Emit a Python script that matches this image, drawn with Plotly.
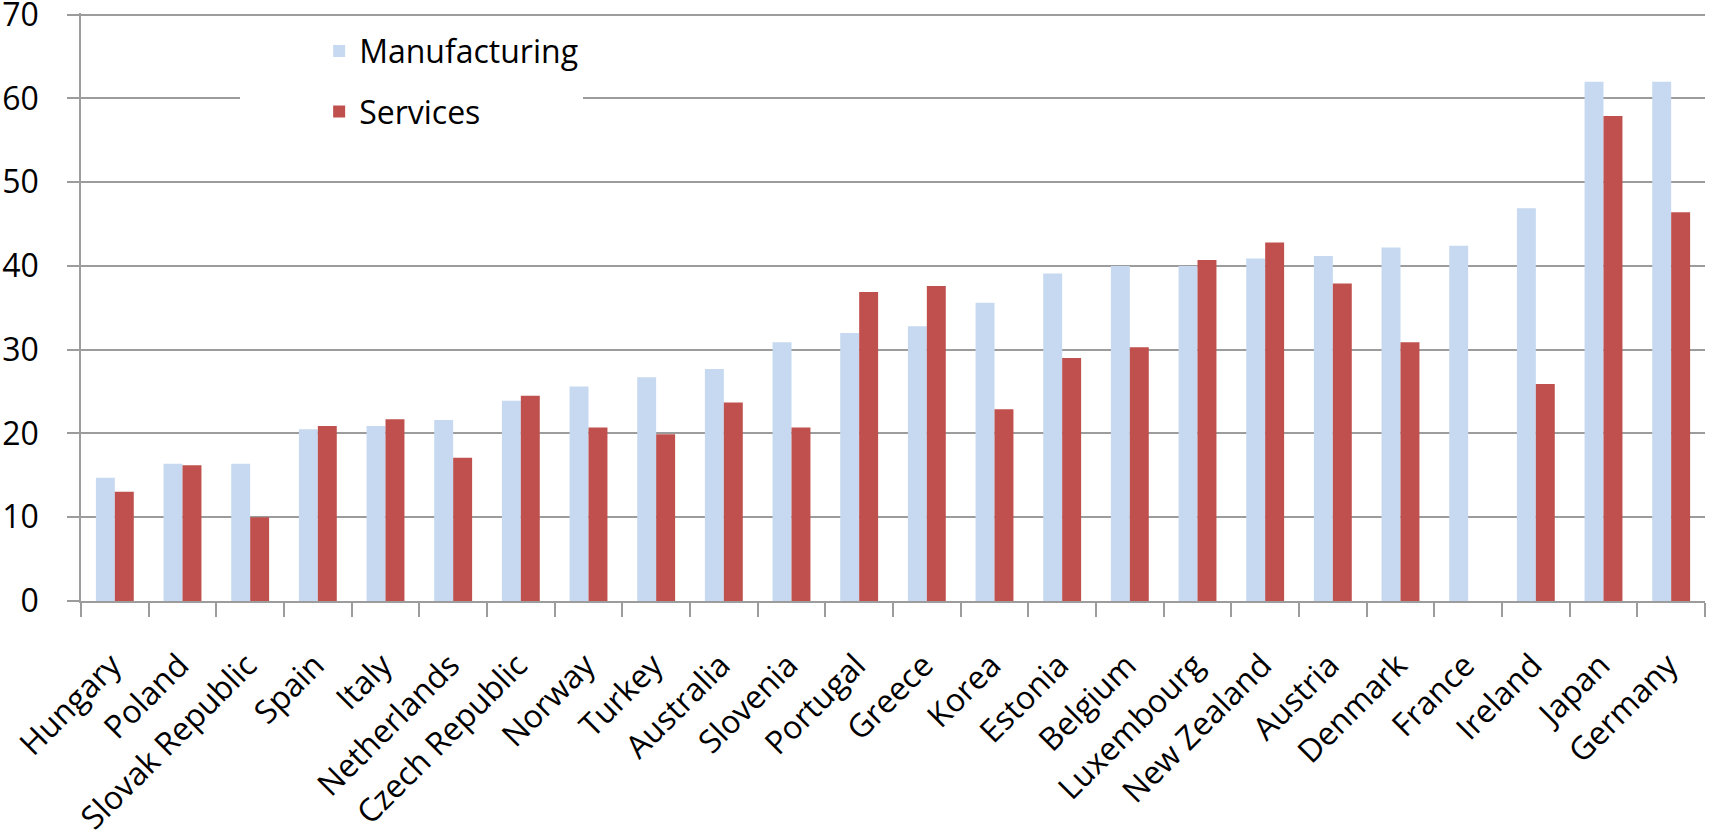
import plotly.graph_objects as go

countries = ["Hungary", "Poland", "Slovak Republic", "Spain", "Italy", "Netherlands",
             "Czech Republic", "Norway", "Turkey", "Australia", "Slovenia", "Portugal",
             "Greece", "Korea", "Estonia", "Belgium", "Luxembourg", "New Zealand",
             "Austria", "Denmark", "France", "Ireland", "Japan", "Germany"]

manufacturing = [14.7, 16.4, 16.4, 20.5, 20.9, 21.6, 23.9, 25.6, 26.7, 27.7, 30.9, 32.0,
                 32.8, 35.6, 39.1, 40.0, 40.0, 40.9, 41.2, 42.2, 42.4, 46.9, 62.0, 62.0]

services = [13.05, 16.2, 10.0, 20.9, 21.7, 17.1, 24.5, 20.7, 19.9, 23.7, 20.7, 36.9,
            37.6, 22.9, 29.0, 30.3, 40.7, 42.8, 37.9, 30.9, None, 25.9, 57.9, 46.4]

y_ticks = [0, 10, 20, 30, 40, 50, 60, 70]

FONT = "Open Sans"
GRID = "#9c9c9c"

fig = go.Figure()
fig.add_trace(go.Bar(x=countries, y=manufacturing, name="Manufacturing",
                     marker=dict(color="#c6d9f1", line=dict(width=0)),
                     legendgroup="m"))
fig.add_trace(go.Bar(x=countries, y=services, name="Services",
                     marker=dict(color="#c0504d", line=dict(width=0)),
                     legendgroup="s"))

fig.update_layout(
    width=1710, height=836,
    margin=dict(l=81, r=5, t=13, b=235, pad=0),
    paper_bgcolor="white", plot_bgcolor="white",
    barmode="group", bargap=0.44, bargroupgap=0,
    font=dict(family=FONT, size=32, color="#000000"),
    showlegend=True,
    legend=dict(x=0.098, xanchor="left", y=0.982, yanchor="top",
                bgcolor="white", borderwidth=0, traceorder="grouped",
                tracegroupgap=16, indentation=79,
                font=dict(family=FONT, size=32, color="#000000")),
    xaxis=dict(type="category", showline=True, linecolor=GRID, linewidth=1.5,
               ticks="outside", tickson="boundaries", ticklen=14, tickcolor=GRID,
               tickwidth=1.5, tickangle=-45, showgrid=False, automargin=False,
               ticklabelstandoff=31, ticklabelshift=-3, ticklabeloverflow="allow",
               tickfont=dict(family=FONT, size=32, color="#000000")),
    yaxis=dict(range=[0, 70.2], tickvals=y_ticks, showline=True, linecolor=GRID,
               linewidth=1.5, ticks="outside", ticklen=12, tickcolor=GRID, tickwidth=1.5,
               showgrid=True, gridcolor=GRID, gridwidth=1.5, zeroline=False,
               automargin=False, ticklabelstandoff=22, ticklabeloverflow="allow",
               tickfont=dict(family=FONT, size=32, color="#000000")),
)

fig.write_html("out.html")
